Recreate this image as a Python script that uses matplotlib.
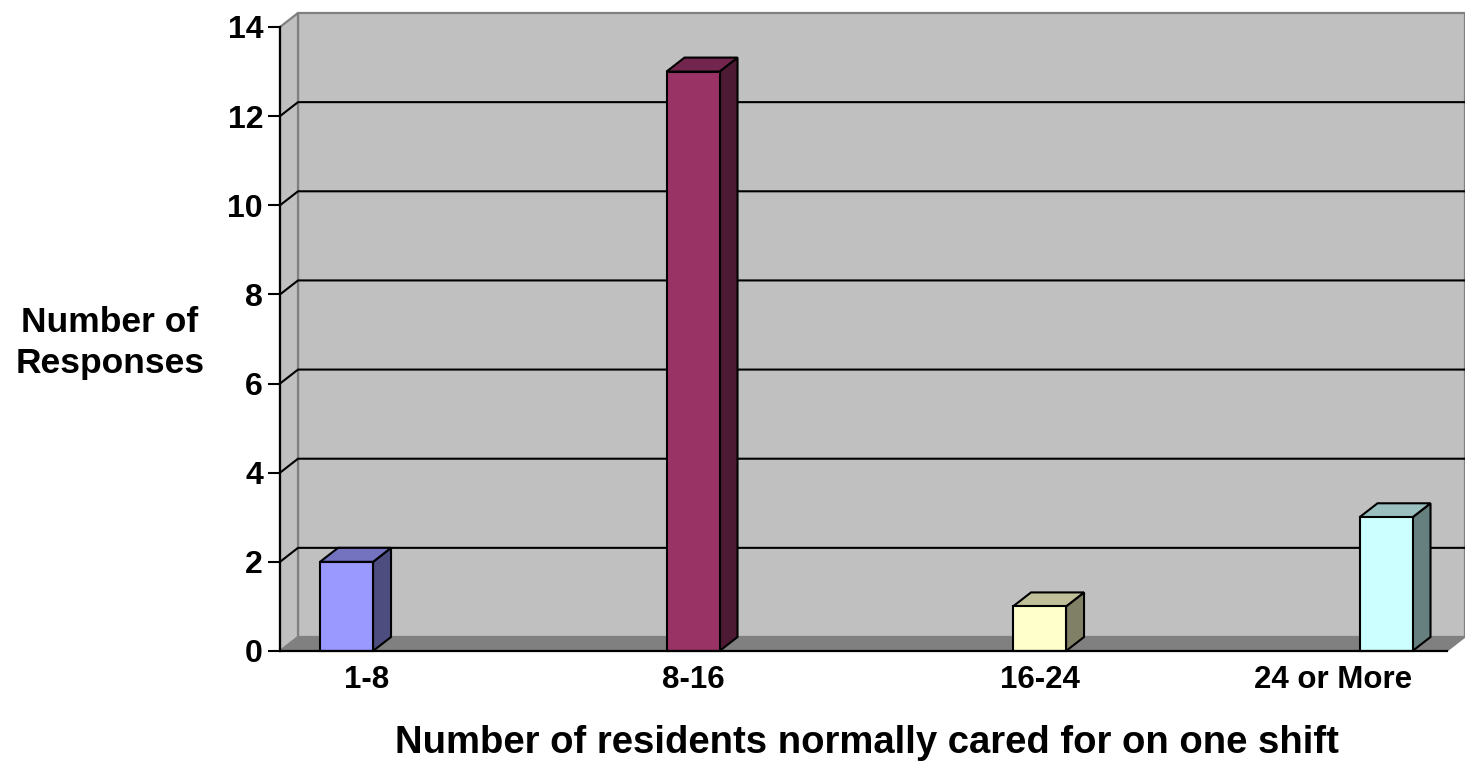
import matplotlib
matplotlib.use("Agg")
import matplotlib.pyplot as plt
from matplotlib.patches import Polygon
from matplotlib.colors import to_rgb

# ---------- data ----------
categories = ["1-8", "8-16", "16-24", "24 or More"]
responses = [2, 13, 1, 3]
bar_colors = ["#9999FF", "#993366", "#FFFFCC", "#CCFFFF"]
y_ticks = [0, 2, 4, 6, 8, 10, 12, 14]
# --------------------------

# horizontal nudge of each category label (pixels), keeps the last one inside the figure
label_shift = [20, 0, 0, -53]

plt.rcParams["font.family"] = ["Liberation Sans", "DejaVu Sans"]
plt.rcParams["font.weight"] = "bold"

W, H, DPI = 1465, 764, 100
PT = 72 / DPI  # points per pixel
fig = plt.figure(figsize=(W / DPI, H / DPI), dpi=DPI)

# front plane of the 3d box, in pixels
left_px, right_px, bottom_px, top_px = 280, 1447, 651, 27
ax = fig.add_axes([left_px / W, 1 - bottom_px / H,
                   (right_px - left_px) / W, (bottom_px - top_px) / H])

xl, xr = -0.192, 3.176
y_max = 14
ax.set_xlim(xl, xr)
ax.set_ylim(0, y_max)

# depth of the box (18 px right, 14 px up) in data units
px_per_x = (right_px - left_px) / (xr - xl)
px_per_y = (bottom_px - top_px) / y_max
DX = 18 / px_per_x
DY = 14 / px_per_y
bar_w = 53 / px_per_x


def poly(pts, fc, ec, lw, z):
    p = Polygon(pts, closed=True, facecolor=fc, edgecolor=ec, linewidth=lw,
                zorder=z, clip_on=False, joinstyle="miter")
    ax.add_patch(p)


def shade(c, f):
    r, g, b = to_rgb(c)
    return (r * f, g * f, b * f)


# back wall, side wall and floor
poly([(xl + DX, DY), (xr + DX, DY), (xr + DX, y_max + DY), (xl + DX, y_max + DY)],
     "#C0C0C0", "#808080", 1.6, 1)
poly([(xl, 0), (xl + DX, DY), (xl + DX, y_max + DY), (xl, y_max)],
     "#C0C0C0", "#808080", 1.6, 1.1)
poly([(xl, 0), (xr, 0), (xr + DX, DY), (xl + DX, DY)],
     "#808080", "#808080", 1.0, 1.2)

# gridlines on the walls
for v in y_ticks[1:-1]:
    ax.plot([xl, xl + DX, xr + DX], [v, v + DY, v + DY], color="black",
            linewidth=1.5, zorder=1.5, clip_on=False, solid_capstyle="butt")

# 3d bars
for i, (v, c) in enumerate(zip(responses, bar_colors)):
    x0, x1 = i - bar_w / 2, i + bar_w / 2
    poly([(x1, 0), (x1 + DX, DY), (x1 + DX, v + DY), (x1, v)],
         shade(c, 0.5), "black", 1.5, 3)
    poly([(x0, v), (x1, v), (x1 + DX, v + DY), (x0 + DX, v + DY)],
         shade(c, 0.75), "black", 1.5, 3)
    poly([(x0, 0), (x1, 0), (x1, v), (x0, v)], c, "black", 1.5, 3.1)

# axes styling
for s in ["top", "right"]:
    ax.spines[s].set_visible(False)
for s in ["left", "bottom"]:
    ax.spines[s].set_color("black")
    ax.spines[s].set_linewidth(1.6)
    ax.spines[s].set_zorder(4)
ax.patch.set_visible(False)

ax.set_yticks(y_ticks)
ax.tick_params(axis="y", direction="out", length=12 * PT, width=1.5,
               pad=5 * PT, labelsize=23)
for lab in ax.get_yticklabels():
    lab.set_fontweight("bold")

# category labels under the bars
ax.set_xticks([])
for i, (name, dx) in enumerate(zip(categories, label_shift)):
    ax.annotate(name, xy=(i, 0), xycoords="data",
                xytext=(dx * PT, -37 * PT), textcoords="offset points",
                ha="center", va="baseline", fontsize=22.5, fontweight="bold",
                annotation_clip=False)

fig.text(110 / W, 1 - 343 / H, "Number of\nResponses", ha="center",
         va="center", fontsize=25.5, fontweight="bold", linespacing=1.3)
fig.text(867 / W, 1 - 753 / H,
         "Number of residents normally cared for on one shift",
         ha="center", va="baseline", fontsize=27.5, fontweight="bold")

fig.savefig("out.png", dpi=DPI)
